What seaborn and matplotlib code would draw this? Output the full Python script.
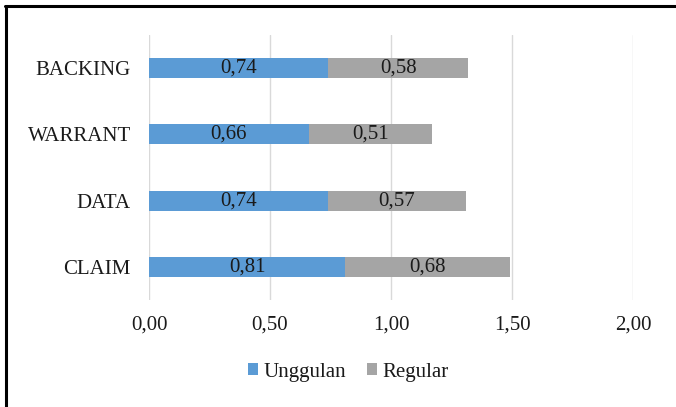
import matplotlib
matplotlib.use("Agg")
import matplotlib.pyplot as plt
import seaborn as sns
import pandas as pd
from matplotlib.patches import Patch
from matplotlib.lines import Line2D

categories = ["BACKING", "WARRANT", "DATA", "CLAIM"]
unggulan = [0.74, 0.66, 0.74, 0.81]
regular = [0.58, 0.51, 0.57, 0.68]
xticks = [0.0, 0.5, 1.0, 1.5, 2.0]

sns.set_theme(style="white")
plt.rcParams['font.family'] = ['Liberation Serif', 'DejaVu Serif']

df = pd.DataFrame({"cat": categories, "Unggulan": unggulan, "Regular": regular})
df["Total"] = df["Unggulan"] + df["Regular"]

fig = plt.figure(figsize=(6.76, 4.07), dpi=100)
ax = fig.add_axes([149/676, 107/407, (633-149)/676, (300-35)/407])

blue = "#5B9BD5"
grey = "#A5A5A5"
fs = 15
sns.barplot(data=df, y="cat", x="Total", order=categories, color=grey,
            saturation=1, width=0.3, ax=ax, orient="h", linewidth=0)
sns.barplot(data=df, y="cat", x="Unggulan", order=categories, color=blue,
            saturation=1, width=0.3, ax=ax, orient="h", linewidth=0)

for i, (u, r) in enumerate(zip(unggulan, regular)):
    ax.text(u / 2, i, f"{u:.2f}".replace(".", ","), ha="center", va="center",
            fontsize=fs, color="#1a1a1a")
    ax.text(u + r / 2, i, f"{r:.2f}".replace(".", ","), ha="center", va="center",
            fontsize=fs, color="#1a1a1a")

ax.set_xlim(0, 2.0)
ax.set_ylim(3.5, -0.5)
ax.set_xticks(xticks)
ax.set_xticklabels([f"{t:.2f}".replace(".", ",") for t in xticks], fontsize=fs, color="#1a1a1a")
ax.tick_params(axis="y", labelsize=fs, length=0, pad=13, labelcolor="#1a1a1a")
ax.tick_params(axis="x", length=0, pad=11)
ax.set_xlabel("")
ax.set_ylabel("")
ax.grid(axis="x", color="#D9D9D9", linewidth=1)
ax.set_axisbelow(True)
for s in ax.spines.values():
    s.set_visible(False)

handles = [Patch(facecolor=blue, edgecolor="none"), Patch(facecolor=grey, edgecolor="none")]
fig.legend(handles, ["Unggulan", "Regular"], loc="center", bbox_to_anchor=(348/676, 1 - 372/407),
           ncol=2, frameon=False, fontsize=fs, handlelength=0.5, handleheight=0.5,
           handletextpad=0.25, columnspacing=1.0, labelcolor="#1a1a1a")

# figure frame: top and left
fig.add_artist(Line2D([5/676, 1], [1 - 6/407, 1 - 6/407], color="black", linewidth=2.2,
                      transform=fig.transFigure))
fig.add_artist(Line2D([6/676, 6/676], [0, 1 - 6/407], color="black", linewidth=2.2,
                      transform=fig.transFigure))

fig.savefig("out.png", dpi=100)
